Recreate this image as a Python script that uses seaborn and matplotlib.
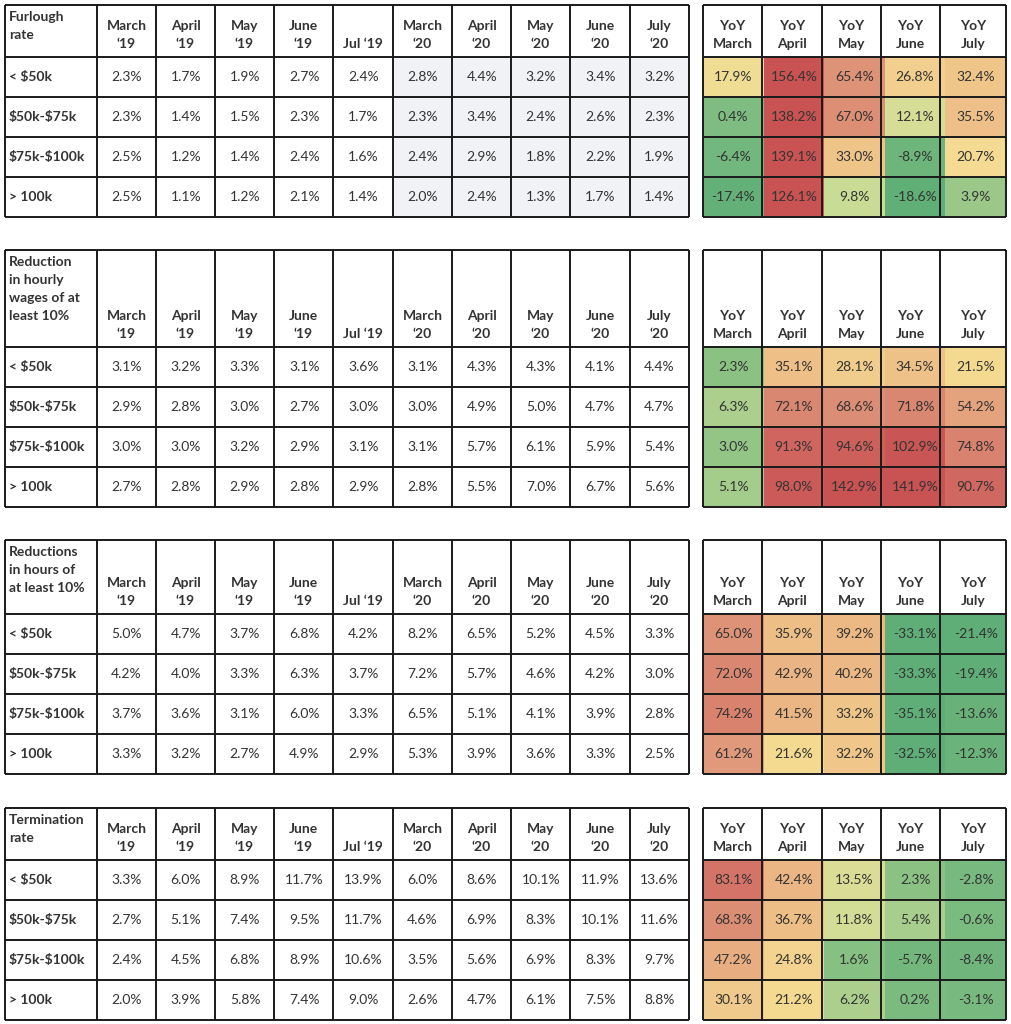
import numpy as np
import matplotlib
matplotlib.use("Agg")
import matplotlib.pyplot as plt
import seaborn as sns
from matplotlib.colors import LinearSegmentedColormap, ListedColormap

# data
groups = ["< $50k", "$50k-$75k", "$75k-$100k", "> 100k"]
month_cols = ["March\n\u201819", "April\n\u201819", "May\n\u201819", "June\n\u201819", "Jul \u201819",
              "March\n\u201820", "April\n\u201820", "May\n\u201820", "June\n\u201820", "July\n\u201820"]
yoy_cols = ["YoY\nMarch", "YoY\nApril", "YoY\nMay", "YoY\nJune", "YoY\nJuly"]
titles = ["Furlough\nrate", "Reduction\nin hourly\nwages of at\nleast 10%",
          "Reductions\nin hours of\nat least 10%", "Termination\nrate"]

furlough = [[2.3, 1.7, 1.9, 2.7, 2.4, 2.8, 4.4, 3.2, 3.4, 3.2],
            [2.3, 1.4, 1.5, 2.3, 1.7, 2.3, 3.4, 2.4, 2.6, 2.3],
            [2.5, 1.2, 1.4, 2.4, 1.6, 2.4, 2.9, 1.8, 2.2, 1.9],
            [2.5, 1.1, 1.2, 2.1, 1.4, 2.0, 2.4, 1.3, 1.7, 1.4]]
furlough_yoy = [[17.9, 156.4, 65.4, 26.8, 32.4],
                [0.4, 138.2, 67.0, 12.1, 35.5],
                [-6.4, 139.1, 33.0, -8.9, 20.7],
                [-17.4, 126.1, 9.8, -18.6, 3.9]]
wages = [[3.1, 3.2, 3.3, 3.1, 3.6, 3.1, 4.3, 4.3, 4.1, 4.4],
         [2.9, 2.8, 3.0, 2.7, 3.0, 3.0, 4.9, 5.0, 4.7, 4.7],
         [3.0, 3.0, 3.2, 2.9, 3.1, 3.1, 5.7, 6.1, 5.9, 5.4],
         [2.7, 2.8, 2.9, 2.8, 2.9, 2.8, 5.5, 7.0, 6.7, 5.6]]
wages_yoy = [[2.3, 35.1, 28.1, 34.5, 21.5],
             [6.3, 72.1, 68.6, 71.8, 54.2],
             [3.0, 91.3, 94.6, 102.9, 74.8],
             [5.1, 98.0, 142.9, 141.9, 90.7]]
hours = [[5.0, 4.7, 3.7, 6.8, 4.2, 8.2, 6.5, 5.2, 4.5, 3.3],
         [4.2, 4.0, 3.3, 6.3, 3.7, 7.2, 5.7, 4.6, 4.2, 3.0],
         [3.7, 3.6, 3.1, 6.0, 3.3, 6.5, 5.1, 4.1, 3.9, 2.8],
         [3.3, 3.2, 2.7, 4.9, 2.9, 5.3, 3.9, 3.6, 3.3, 2.5]]
hours_yoy = [[65.0, 35.9, 39.2, -33.1, -21.4],
             [72.0, 42.9, 40.2, -33.3, -19.4],
             [74.2, 41.5, 33.2, -35.1, -13.6],
             [61.2, 21.6, 32.2, -32.5, -12.3]]
termination = [[3.3, 6.0, 8.9, 11.7, 13.9, 6.0, 8.6, 10.1, 11.9, 13.6],
               [2.7, 5.1, 7.4, 9.5, 11.7, 4.6, 6.9, 8.3, 10.1, 11.6],
               [2.4, 4.5, 6.8, 8.9, 10.6, 3.5, 5.6, 6.9, 8.3, 9.7],
               [2.0, 3.9, 5.8, 7.4, 9.0, 2.6, 4.7, 6.1, 7.5, 8.8]]
termination_yoy = [[83.1, 42.4, 13.5, 2.3, -2.8],
                   [68.3, 36.7, 11.8, 5.4, -0.6],
                   [47.2, 24.8, 1.6, -5.7, -8.4],
                   [30.1, 21.2, 6.2, 0.2, -3.1]]

blocks = [(furlough, furlough_yoy), (wages, wages_yoy), (hours, hours_yoy), (termination, termination_yoy)]

# layout in pixels
W, H = 1011, 1024
left_x = [5, 97, 156, 215, 274, 333, 393, 452, 511, 570, 630, 689]
right_x = [703, 762, 822, 881, 940, 1006]
tops = [5, 250, 540, 808]
head_bottoms = [57, 347, 614, 860]
row_h = 40

# colour scale for the YoY cells
vmin, vmax = -20, 110
stops = [(-20, "#5fae77"), (0, "#7bbb80"), (10, "#cddd97"), (19, "#f5dd93"),
         (38, "#edbb86"), (65, "#de9378"), (100, "#cb5757"), (110, "#c95252")]
yoy_cmap = LinearSegmentedColormap.from_list(
    "yoy", [((v - vmin) / (vmax - vmin), c) for v, c in stops])
bg_cmap = ListedColormap(["white", "#f1f2f5"])

plt.rcParams["font.family"] = ["Lato", "DejaVu Sans"]
plt.rcParams["text.parse_math"] = False
txt = "#333333"
fs = 10

fig = plt.figure(figsize=(W / 100, H / 100), dpi=100)


def add_px_axes(x0, y0, x1, y1):
    return fig.add_axes([x0 / W, 1 - y1 / H, (x1 - x0) / W, (y1 - y0) / H])


for b, (vals, yoy) in enumerate(blocks):
    hb = head_bottoms[b]
    vals = np.array(vals)
    yoy = np.array(yoy)

    # left table body
    ax = add_px_axes(left_x[1], hb, left_x[-1], hb + 4 * row_h)
    shade = np.zeros_like(vals)
    if b == 0:
        shade[:, 5:] = 1
    sns.heatmap(shade, ax=ax, cmap=bg_cmap, vmin=0, vmax=1, cbar=False,
                annot=np.array([[f"{v:.1f}%" for v in r] for r in vals]), fmt="",
                annot_kws={"fontsize": fs, "color": txt})
    ax.set_axis_off()

    # right table body
    ax2 = add_px_axes(right_x[0], hb, right_x[-1], hb + 4 * row_h)
    sns.heatmap(yoy, ax=ax2, cmap=yoy_cmap, vmin=vmin, vmax=vmax, cbar=False,
                annot=np.array([[f"{v:.1f}%" for v in r] for r in yoy]), fmt="",
                annot_kws={"fontsize": fs, "color": txt})
    ax2.set_axis_off()

# overlay for grid lines and header text
ov = fig.add_axes([0, 0, 1, 1], zorder=5)
ov.set_xlim(0, W)
ov.set_ylim(H, 0)
ov.set_axis_off()
ov.patch.set_alpha(0)

for b in range(4):
    top, hb = tops[b], head_bottoms[b]
    bottom = hb + 4 * row_h
    ys = [top, hb] + [hb + row_h * (i + 1) for i in range(4)]
    for xs in (left_x, right_x):
        ov.hlines(ys, xs[0], xs[-1], color="#1a1a1a", lw=1.4)
        ov.vlines(xs, top, bottom, color="#1a1a1a", lw=1.4)

    ov.text(left_x[0] + 4, top + 6, titles[b], ha="left", va="top", fontsize=fs,
            fontweight="bold", color=txt, linespacing=1.6)
    for i, lab in enumerate(month_cols):
        xc = (left_x[i + 1] + left_x[i + 2]) / 2
        ov.text(xc, hb - 7, lab, ha="center", va="bottom", fontsize=fs,
                fontweight="bold", color=txt, linespacing=1.6)
    for i, lab in enumerate(yoy_cols):
        xc = (right_x[i] + right_x[i + 1]) / 2
        ov.text(xc, hb - 7, lab, ha="center", va="bottom", fontsize=fs,
                fontweight="bold", color=txt, linespacing=1.6)
    for r, g in enumerate(groups):
        ov.text(left_x[0] + 4, hb + row_h * (r + 0.5), g, ha="left", va="center",
                fontsize=fs, fontweight="bold", color=txt)

fig.savefig("out.png", dpi=100, facecolor="white")
